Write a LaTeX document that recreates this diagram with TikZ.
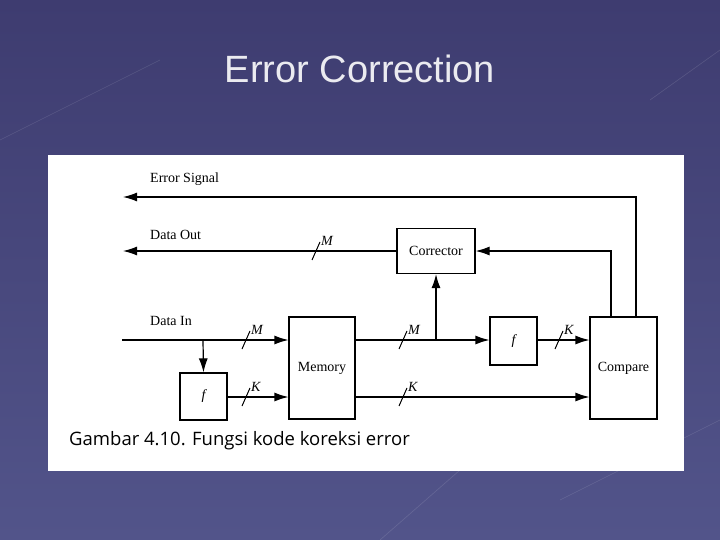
\documentclass[tikz,border=0pt]{standalone}
\usepackage{fontspec}
\setmainfont{Liberation Serif}
\newfontfamily\sansf{Liberation Sans}
\newfontfamily\capf{Open Sans}
\usetikzlibrary{arrows.meta}
\begin{document}
\begin{tikzpicture}[x=1pt,y=-1pt,
  box/.style={draw,line width=1.2pt,minimum width=#1,inner sep=0pt,font=\fontsize{14}{16}\selectfont},
  ln/.style={line width=1.2pt,-{Latex[length=14pt,width=9pt]}},
  pl/.style={line width=1.2pt},
  sl/.style={line width=1pt},
  lab/.style={font=\fontsize{14}{16}\selectfont,anchor=west,inner sep=0pt},
  bus/.style={font=\fontsize{14}{16}\selectfont\itshape,anchor=west,inner sep=0pt}]
\useasboundingbox (0,0) rectangle (720,540);
\shade[top color={rgb,255:red,62;green,60;blue,112}, bottom color={rgb,255:red,82;green,84;blue,138}] (0,0) rectangle (720,540);
\foreach \a/\b in {{(0,140)/(160,60)},{(560,500)/(720,420)},{(380,540)/(460,470)},{(650,100)/(720,50)}}
  \draw[white,opacity=0.12,line width=0.6pt] \a -- \b;
\node[text={rgb,255:red,235;green,235;blue,240},font=\sansf\fontsize{38}{42}\selectfont] (title) at (360,69) {Error Correction};
\fill[white] (48,155) rectangle (684,471);
% boxes
\node[box=78pt,minimum height=45pt] (cor) at (436,251) {Corrector};
\node[box=66pt,minimum height=102pt] (mem) at (322,368) {Memory};
\node[box=47pt,minimum height=48pt] (f2) at (513.5,341) {\itshape f};
\node[box=47pt,minimum height=47pt] (f1) at (203.5,396.5) {\itshape f};
\node[box=67pt,minimum height=102pt] (cmp) at (623.5,368) {Compare};
\coordinate (es) at (123,197);
\coordinate (do) at (123,251);
\coordinate (di) at (122,340);
\coordinate (b1) at (203,340);
\coordinate (b2) at (436,340);
% labels
\node[lab] (tes) at (150,179) {Error Signal};
\node[lab] (tdo) at (150,235) {Data Out};
\node[lab] (tdi) at (150,321) {Data In};
% connectors
\draw[ln] (cmp.north -| 636,0) |- (es);
\draw[ln] (cor.west) -- (do);
\draw[ln] (di) -- (mem.west |- di);
\draw[ln] (b1) -- (f1.north);
\draw[ln] (f1.east |- 0,397) -- (mem.west |- 0,397);
\draw[pl] (mem.east |- b2) -- (b2);
\draw[ln] (b2) -- (f2.west |- b2);
\draw[ln] (b2) -- (cor.south);
\draw[ln] (f2.east |- b2) -- (cmp.west |- b2);
\draw[ln] (mem.east |- 0,397) -- (cmp.west |- 0,397);
\draw[ln] (cmp.north -| 611,0) |- (cor.east);
% bus slashes
\foreach \x/\y/\t [count=\i] in {316/251/M,246/340/M,246/397/K,403/340/M,403/397/K,559/340/K}{
  \draw[sl] (\x-4,\y+9) -- (\x+4,\y-9);
  \node[bus] (bus\i) at (\x+5,\y-10) {\t};
}
\node[anchor=west,inner sep=0pt,font=\capf\fontsize{18.5}{21}\selectfont] (cap) at (69,441) {Gambar 4.10. Fungsi kode koreksi error};
\end{tikzpicture}
\end{document}
